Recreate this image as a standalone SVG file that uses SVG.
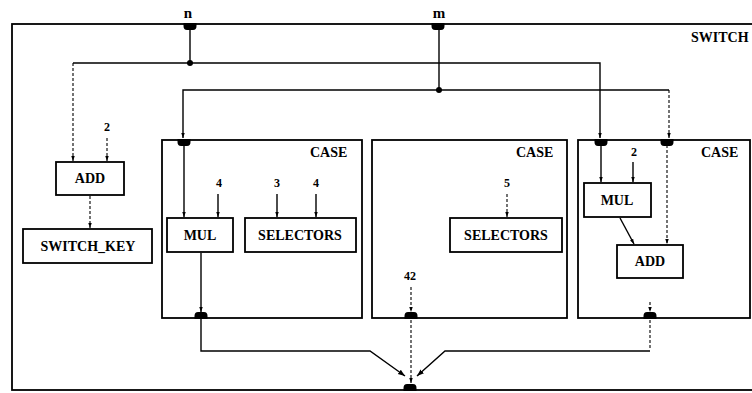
<svg xmlns="http://www.w3.org/2000/svg" width="752" height="393" viewBox="0 0 752 393">
<style>
  .box{fill:#fff;stroke:#000;stroke-width:1.8}
  .frame{fill:none;stroke:#000;stroke-width:1.8}
  .ln{fill:none;stroke:#000;stroke-width:1.4}
  .dl{fill:none;stroke:#000;stroke-width:1.1;stroke-dasharray:3,2}
  .t{font-family:"Liberation Serif","Times New Roman",serif;font-weight:bold;font-size:14px;fill:#000}
  .c{text-anchor:middle}
  .n{font-family:"Liberation Serif","Times New Roman",serif;font-weight:bold;font-size:12px;fill:#000;text-anchor:middle}
  .port{fill:#000}
</style>
<defs>
  <marker id="ah" viewBox="0 0 8 8" refX="8" refY="4" markerWidth="5" markerHeight="5" orient="auto" markerUnits="userSpaceOnUse">
    <path d="M0,1.2 L8,4 L0,6.8 Z" fill="#000"/>
  </marker>
  <marker id="ahb" viewBox="0 0 8 8" refX="8" refY="4" markerWidth="7" markerHeight="7" orient="auto" markerUnits="userSpaceOnUse">
    <path d="M0,1 L8,4 L0,7 Z" fill="#000"/>
  </marker>
  <path id="pt" d="M-6.5,-1 H6.5 V2 Q6.5,6 3,6 H-3 Q-6.5,6 -6.5,2 Z"/>
  <path id="pb" d="M-6.5,1 H6.5 V-2 Q6.5,-6 3,-6 H-3 Q-6.5,-6 -6.5,-2 Z"/>
</defs>

<g id="switch">
  <rect class="frame" x="12" y="24" width="746" height="366"/>
  <text class="t" x="691" y="42">SWITCH</text>
  <text class="t c" x="188" y="18" style="font-size:15px">n</text>
  <text class="t c" x="439" y="18" style="font-size:15px">m</text>
  <use href="#pt" class="port" x="190" y="24"/>
  <use href="#pt" class="port" x="438" y="24"/>
  <use href="#pb" class="port" x="410" y="390"/>
</g>

<g id="case1">
  <rect class="frame" x="162" y="140" width="200" height="178"/>
  <text class="t" x="310" y="157">CASE</text>
  <use href="#pt" class="port" x="184" y="140"/>
  <use href="#pb" class="port" x="201" y="318"/>
</g>
<g id="case2">
  <rect class="frame" x="372" y="140" width="195" height="178"/>
  <text class="t" x="516" y="157">CASE</text>
  <use href="#pb" class="port" x="411" y="318"/>
</g>
<g id="case3">
  <rect class="frame" x="578" y="140" width="172" height="178"/>
  <text class="t" x="701" y="157">CASE</text>
  <use href="#pt" class="port" x="601" y="140"/>
  <use href="#pt" class="port" x="667" y="140"/>
  <use href="#pb" class="port" x="650" y="318"/>
</g>

<g id="add1">
  <rect class="box" x="56" y="162" width="68" height="33"/>
  <text class="t c" x="90" y="183">ADD</text>
</g>
<g id="switch_key">
  <rect class="box" x="23" y="229" width="129" height="34"/>
  <text class="t c" x="88" y="251">SWITCH_KEY</text>
</g>
<g id="mul1">
  <rect class="box" x="167" y="218" width="66" height="34"/>
  <text class="t c" x="200" y="240">MUL</text>
</g>
<g id="selectors1">
  <rect class="box" x="245" y="218" width="111" height="34"/>
  <text class="t c" x="300" y="240">SELECTORS</text>
</g>
<g id="selectors2">
  <rect class="box" x="450" y="218" width="112" height="34"/>
  <text class="t c" x="506" y="240">SELECTORS</text>
</g>
<g id="mul2">
  <rect class="box" x="584" y="183" width="67" height="34"/>
  <text class="t c" x="617" y="205">MUL</text>
</g>
<g id="add2">
  <rect class="box" x="617" y="245" width="66" height="33"/>
  <text class="t c" x="650" y="266">ADD</text>
</g>

<g id="labels">
  <text class="n" x="107" y="131">2</text>
  <text class="n" x="219" y="187">4</text>
  <text class="n" x="277" y="187">3</text>
  <text class="n" x="316" y="187">4</text>
  <text class="n" x="507" y="187">5</text>
  <text class="n" x="410" y="280">42</text>
  <text class="n" x="634" y="156">2</text>
</g>

<g id="connectors">
  <!-- n -->
  <line class="ln" x1="190" y1="28" x2="190" y2="63"/>
  <circle cx="190" cy="63" r="3"/>
  <polyline class="ln" points="73,63 600,63 600,138" marker-end="url(#ah)"/>
  <polyline class="dl" points="73,63 73,161" marker-end="url(#ah)"/>
  <!-- m -->
  <line class="ln" x1="439" y1="28" x2="439" y2="90"/>
  <circle cx="439" cy="90" r="3"/>
  <polyline class="ln" points="439,90 183,90 183,138" marker-end="url(#ah)"/>
  <line class="ln" x1="439" y1="90" x2="669" y2="90"/>
  <polyline class="dl" points="669,90 669,138" marker-end="url(#ah)"/>
  <!-- left add -->
  <line class="dl" x1="107" y1="138" x2="107" y2="161" marker-end="url(#ah)"/>
  <line class="dl" x1="90" y1="196" x2="90" y2="228" marker-end="url(#ah)"/>
  <!-- case1 -->
  <line class="ln" x1="184" y1="145" x2="184" y2="217" marker-end="url(#ah)"/>
  <line class="ln" x1="218" y1="194" x2="218" y2="217" marker-end="url(#ah)"/>
  <line class="ln" x1="277" y1="194" x2="277" y2="217" marker-end="url(#ah)"/>
  <line class="ln" x1="316" y1="194" x2="316" y2="217" marker-end="url(#ah)"/>
  <line class="ln" x1="201" y1="253" x2="201" y2="312" marker-end="url(#ah)"/>
  <!-- case2 -->
  <line class="dl" x1="507" y1="194" x2="507" y2="217" marker-end="url(#ah)"/>
  <line class="dl" x1="411" y1="287" x2="411" y2="312" marker-end="url(#ah)"/>
  <!-- case3 -->
  <line class="ln" x1="601" y1="145" x2="601" y2="182" marker-end="url(#ah)"/>
  <line class="ln" x1="633" y1="162" x2="633" y2="182" marker-end="url(#ah)"/>
  <line class="dl" x1="667" y1="145" x2="667" y2="244" marker-end="url(#ah)"/>
  <line class="ln" x1="620" y1="218" x2="634" y2="244" marker-end="url(#ah)"/>
  <line class="dl" x1="650" y1="302" x2="650" y2="312" marker-end="url(#ah)"/>
  <!-- to bottom -->
  <polyline class="ln" points="201,318 201,351 370,351 405,376" marker-end="url(#ahb)"/>
  <line class="dl" x1="411" y1="320" x2="411" y2="383" marker-end="url(#ah)"/>
  <line class="dl" x1="650" y1="320" x2="650" y2="350"/>
  <polyline class="ln" points="650,351 445,351 417,376" marker-end="url(#ahb)"/>
</g>
</svg>
